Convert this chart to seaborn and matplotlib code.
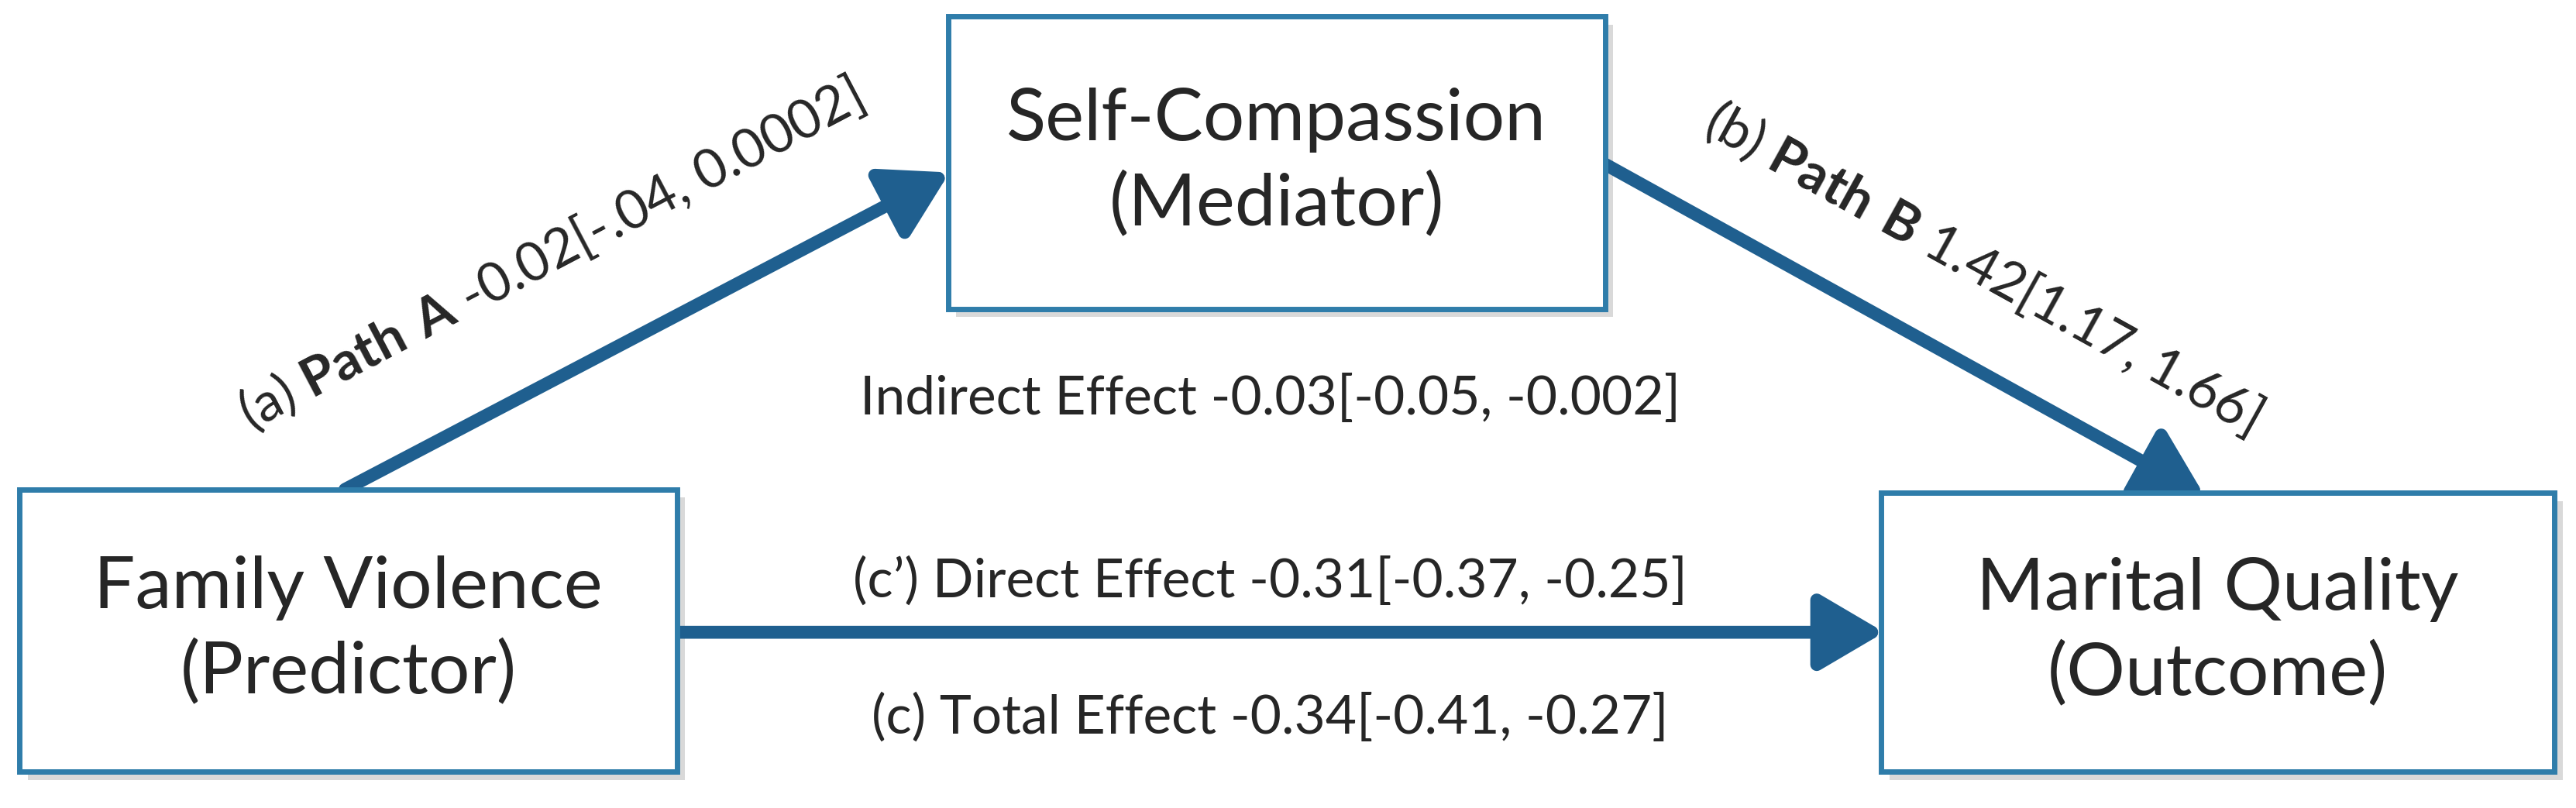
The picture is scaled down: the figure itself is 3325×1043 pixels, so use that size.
import matplotlib
matplotlib.use("Agg")
import matplotlib.pyplot as plt
from matplotlib.patches import Rectangle, FancyArrowPatch
import seaborn as sns

sns.set_theme(style="white")
plt.rcParams['font.family'] = ['Lato', 'DejaVu Sans']
plt.rcParams['mathtext.fontset'] = 'custom'
plt.rcParams['mathtext.rm'] = 'Lato'
plt.rcParams['mathtext.bf'] = 'Lato:bold'

box_names = ["Self-Compassion\n(Mediator)", "Family Violence\n(Predictor)", "Marital Quality\n(Outcome)"]
path_a = ["(a)", "Path A", "-0.02[-.04, 0.0002]"]
path_b = ["(b)", "Path B", "1.42[1.17, 1.66]"]
indirect_label = "Indirect Effect -0.03[-0.05, -0.002]"
direct_label = "(c\u2019) Direct Effect -0.31[-0.37, -0.25]"
total_label = "(c) Total Effect -0.34[-0.41, -0.27]"

W, H = 1568, 492
fig = plt.figure(figsize=(33.25, 10.43), dpi=100)
ax = fig.add_axes([0, 0, 1, 1])
ax.set_xlim(0, W); ax.set_ylim(H, 0); ax.axis('off')

edge = "#2F7DAA"; arrowc = "#1F5F8F"
boxes = [(577, 10, 400, 178), (12, 298, 400, 172), (1145, 300, 410, 170)]
for (x, y, w, h), name in zip(boxes, box_names):
    ax.add_patch(Rectangle((x + 5, y + 5), w, h, facecolor="#d9d9d9", edgecolor="none", zorder=1))
    ax.add_patch(Rectangle((x, y), w, h, facecolor="white", edgecolor=edge, lw=5, zorder=2))
    ax.text(x + w / 2, y + h / 2, name, ha='center', va='center', fontsize=68, linespacing=1.35, zorder=3)

def arrow(p0, p1):
    ax.add_patch(FancyArrowPatch(p0, p1, arrowstyle='-|>,head_length=1.7,head_width=1.0',
                                 mutation_scale=30, lw=12, color=arrowc, zorder=1.5, shrinkA=0, shrinkB=0))

arrow((210, 298), (578, 105))
arrow((977, 100), (1342, 302))
arrow((412, 385), (1147, 385))

fs = 50
ax.text(335, 155, f"{path_a[0]} $\\mathbf{{{path_a[1].replace(' ', '\\ ')}}}$ {path_a[2]}",
        ha='center', va='center', fontsize=fs, rotation=27.7, rotation_mode='anchor')
ax.text(1207, 163, f"{path_b[0]} $\\mathbf{{{path_b[1].replace(' ', '\\ ')}}}$ {path_b[2]}",
        ha='center', va='center', fontsize=fs, rotation=-29, rotation_mode='anchor')
ax.text(773, 243, indirect_label, ha='center', va='center', fontsize=fs)
ax.text(773, 354, direct_label, ha='center', va='center', fontsize=fs)
ax.text(773, 437, total_label, ha='center', va='center', fontsize=fs)

fig.savefig("out.png", dpi=100, facecolor="white")
